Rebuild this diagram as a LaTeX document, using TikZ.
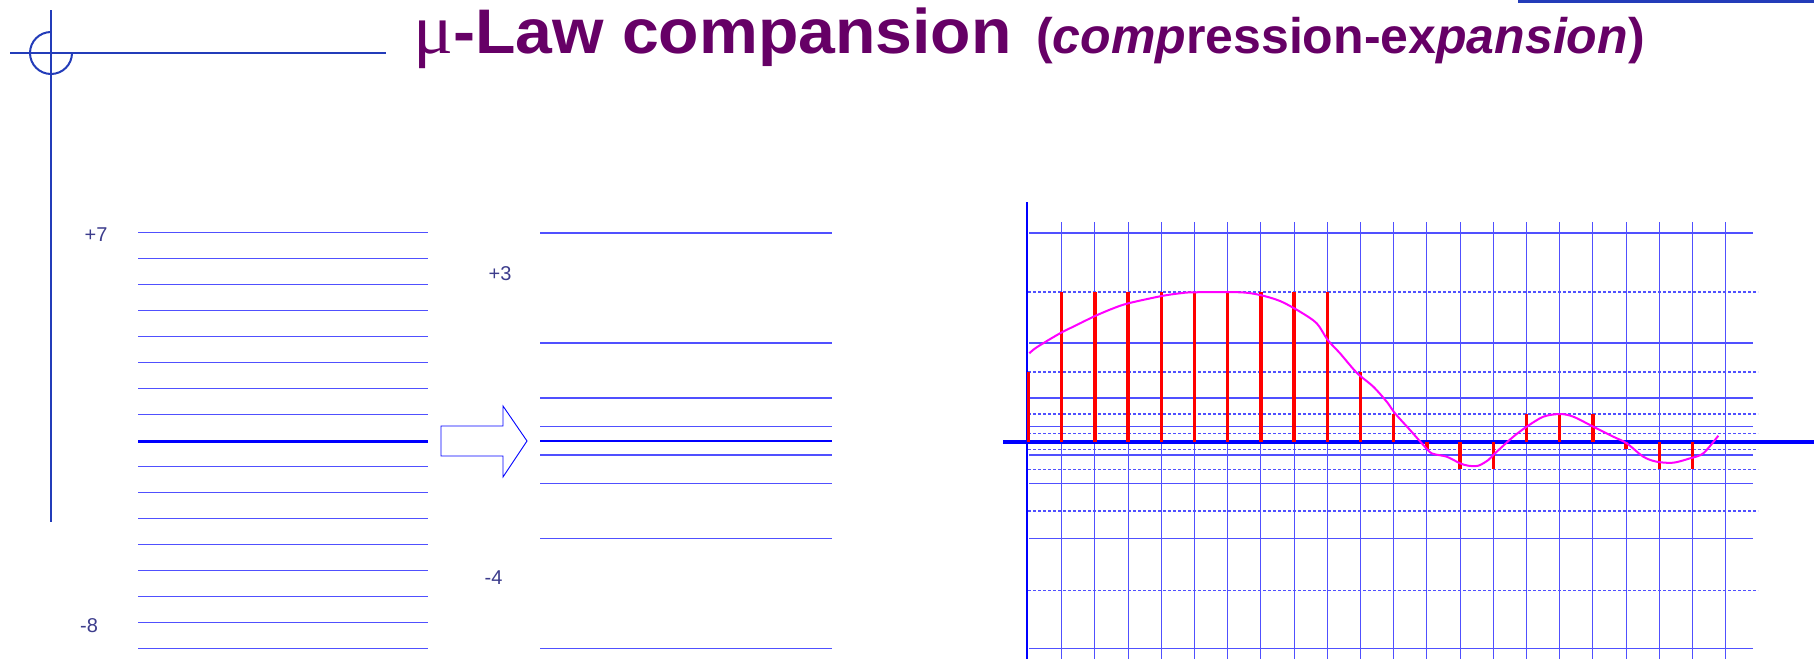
\documentclass[tikz,border=0pt]{standalone}
\usepackage{fontspec}
\setmainfont{Liberation Sans}
\newfontfamily\serifmu{Liberation Serif}
\definecolor{titlepurple}{RGB}{102,0,102}
\definecolor{lineblue}{RGB}{80,80,255}
\definecolor{crossblue}{RGB}{35,60,185}
\definecolor{labelblue}{RGB}{60,60,140}
\definecolor{axisblue}{RGB}{0,0,255}
\definecolor{signalmagenta}{RGB}{255,0,255}
\tikzset{
  levelline/.style={lineblue, line width=1.2pt},
  zeroline/.style={axisblue, line width=2.6pt},
  gridline/.style={lineblue, line width=1.1pt},
  dotline/.style={lineblue, line width=1.1pt, dash pattern=on 2.5pt off 2.5pt},
  crossline/.style={crossblue, line width=2pt},
  levellabel/.style={labelblue, inner sep=0pt, font=\fontsize{20}{22}\selectfont},
  samplebar/.style={red, line width=3.4pt},
  signal/.style={signalmagenta, line width=2pt},
}
\begin{document}
\begin{tikzpicture}[x=1pt,y=-1pt]
\useasboundingbox (0,0) rectangle (1814,659);
% crosshair
\draw[crossline] (51,10) -- (51,522);
\draw[crossline] (10,53) -- (386,53);
\draw[crossline] (51,32) arc[start angle=90, end angle=360, radius=21pt];
\draw[crossblue, line width=2.6pt] (1518,1.5) -- (1814,1.5);
% title
\node[anchor=base west, inner sep=0pt, text=titlepurple] (title) at (413,53.5)
  {\scalebox{1.05}[1]{\fontsize{63}{66}\selectfont{\serifmu\fontsize{71}{66}\selectfont μ}\bfseries-Law compansion}};
\node[anchor=base west, inner sep=0pt, text=titlepurple] (subtitle) at (1036,53.5)
  {\fontsize{50}{56}\selectfont\bfseries(\textit{comp}ression-ex\textit{pansion})};
% left panel: uniform levels
\foreach \i in {0,...,16} {
  \draw[levelline] (138,232.7+25.97*\i) -- (428,232.7+25.97*\i);
}
\draw[zeroline] (138,441.5) -- (428,441.5);
\node[levellabel] (lp7) at (96,234.5) {+7};
\node[levellabel] (lm8) at (89,626) {-8};
% arrow
\draw[axisblue, line width=0.9pt, fill=white] (441,426) -- (503,426) -- (503,406) -- (527,441) -- (503,477) -- (503,456) -- (441,456) -- cycle;
% middle panel: companded levels
\foreach \y in {233,343,398,426.7,455,483.7,538.7,648.7} {
  \draw[levelline] (540,\y) -- (832,\y);
}
\draw[zeroline] (540,441) -- (832,441);
\node[levellabel] (lp3) at (500,274) {+3};
\node[levellabel] (lm4) at (493.5,578) {-4};
% chart grid
\foreach \k in {1,...,21} {
  \draw[gridline] (1028.5+33.2*\k,222) -- (1028.5+33.2*\k,659);
}
\foreach \y in {233,343,398,426.5,455,483.5,538.5,648.5} {
  \draw[gridline] (1029,\y) -- (1753,\y);
}
\foreach \y in {292,372,414,433.7,449.3,469.3,511,590.7} {
  \draw[dotline] (1028,\y) -- (1758,\y);
}
% axes
\draw[axisblue, line width=3.3pt] (1003,442) -- (1814,442);
\draw[axisblue, line width=2.5pt] (1027,202) -- (1027,659);
% samples
\foreach \k/\v in {0/372,1/292,2/292,3/292,4/292,5/292,6/292,7/292,8/292,9/292,10/372,11/414,12/449,13/469,14/469,15/414,16/414,17/414,18/449,19/469,20/469} {
  \draw[samplebar] (1028.5+33.2*\k,442) -- (1028.5+33.2*\k,\v);
}
% signal
\draw[signal] plot[smooth, tension=0.5] coordinates {
  (1029.3,353.3) (1036.7,347.3) (1060,333.3) (1076.7,325) (1095,316) (1113.3,308.3)
  (1128.3,303.3) (1161.7,296) (1180,293.3) (1193.3,292.3) (1240,292.3) (1260,295)
  (1280,301) (1300,311.7) (1316.7,323.3) (1327.7,340) (1340,353.3) (1356.7,372.7)
  (1373.3,386.7) (1386.7,401.7) (1395,413.3) (1410,430) (1423.3,445) (1431.7,453.3)
  (1446.7,456.7) (1460,463.3) (1468.3,465.7) (1478.3,465.7) (1488.3,460) (1495,453.3)
  (1513.3,436.7) (1526.7,426.7) (1543.3,416.7) (1560,414) (1573.3,416.7) (1593.3,426.7)
  (1613.3,436.7) (1626.7,443.3) (1643.3,456.7) (1656.7,461.7) (1673.3,462.7) (1690,458.3)
  (1703.3,453.3) (1718.3,435.7)
};
\end{tikzpicture}
\end{document}
